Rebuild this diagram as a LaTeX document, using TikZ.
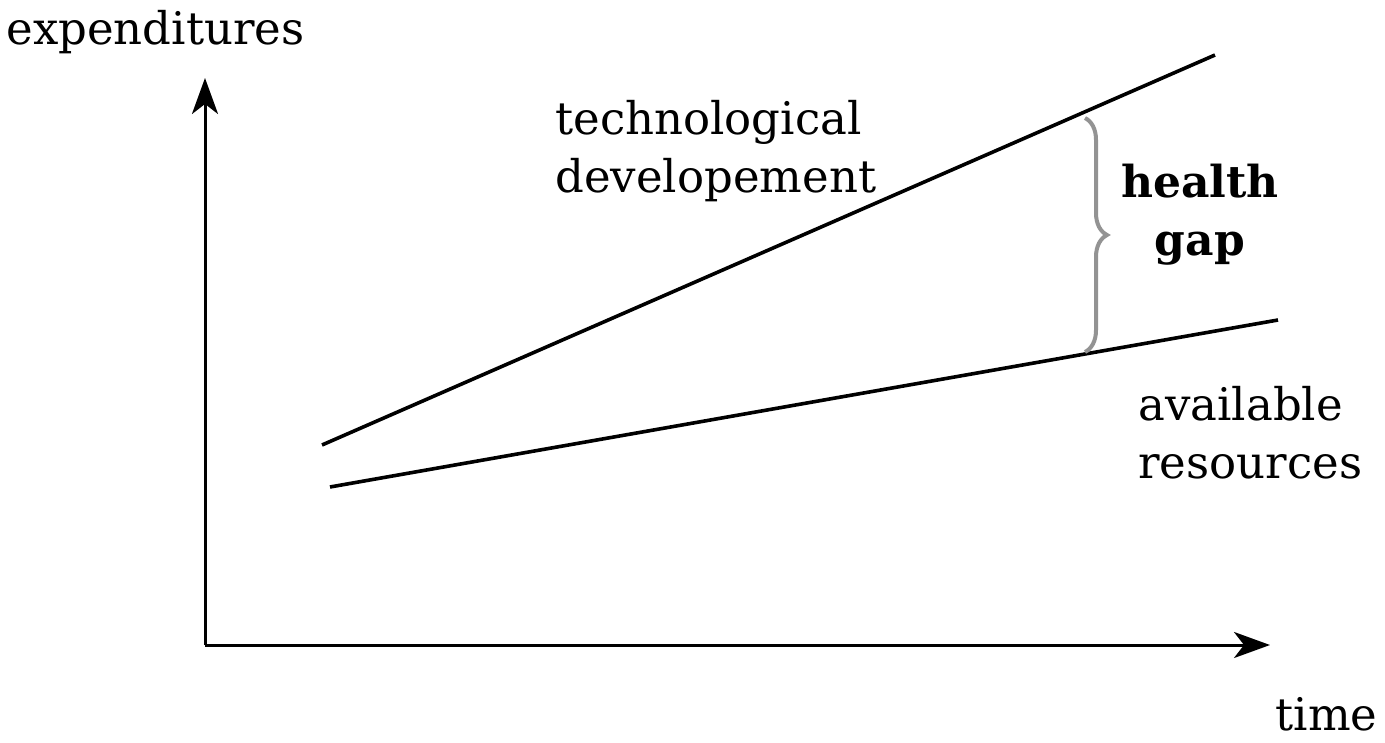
\documentclass[tikz,border=0pt]{standalone}
\usepackage{fontspec}
\setmainfont{DejaVu Serif}
\usetikzlibrary{decorations.pathreplacing,arrows.meta}
\begin{document}
\begin{tikzpicture}[x=0.5pt,y=-0.5pt,
  axis/.style={line width=1.5pt,-{Stealth[length=18pt,width=13pt,inset=5pt]}},
  trend/.style={line width=1.8pt},
  lbl/.style={font=\fontsize{22.5}{29}\selectfont,inner sep=0pt,align=left},
  gapbrace/.style={decorate,decoration={brace,amplitude=11pt},draw=gray!85,line width=2pt}]
\useasboundingbox (0,0) rectangle (1385,743);
% axes
\coordinate (O) at (205,645);
\coordinate (ytip) at (205,78);
\coordinate (xtip) at (1270,645);
\draw[axis] (O) -- (ytip);
\draw[axis] (O) -- (xtip);
% trend lines
\coordinate (t0) at (322,445);
\coordinate (t1) at (1215,55);
\coordinate (r0) at (330,487);
\coordinate (r1) at (1278,320);
\draw[trend] (t0) -- (t1);
\draw[trend] (r0) -- (r1);
% brace
\coordinate (btop) at (1085,118);
\coordinate (bbot) at (1085,352);
\draw[gapbrace] (btop) -- (bbot);
% labels
\node[lbl,anchor=west] (exp) at (6,32) {expenditures};
\node[lbl,anchor=base east] (time) at (1378,730) {time};
\node[lbl,anchor=north west] (tech) at (555,100) {technological\\developement};
\node[lbl,anchor=north west] (res) at (1138,386) {available\\resources};
\node[lbl,anchor=center,align=center,font=\fontsize{22}{29}\selectfont\bfseries] (gap) at (1200,215) {health\\gap};
\end{tikzpicture}
\end{document}
